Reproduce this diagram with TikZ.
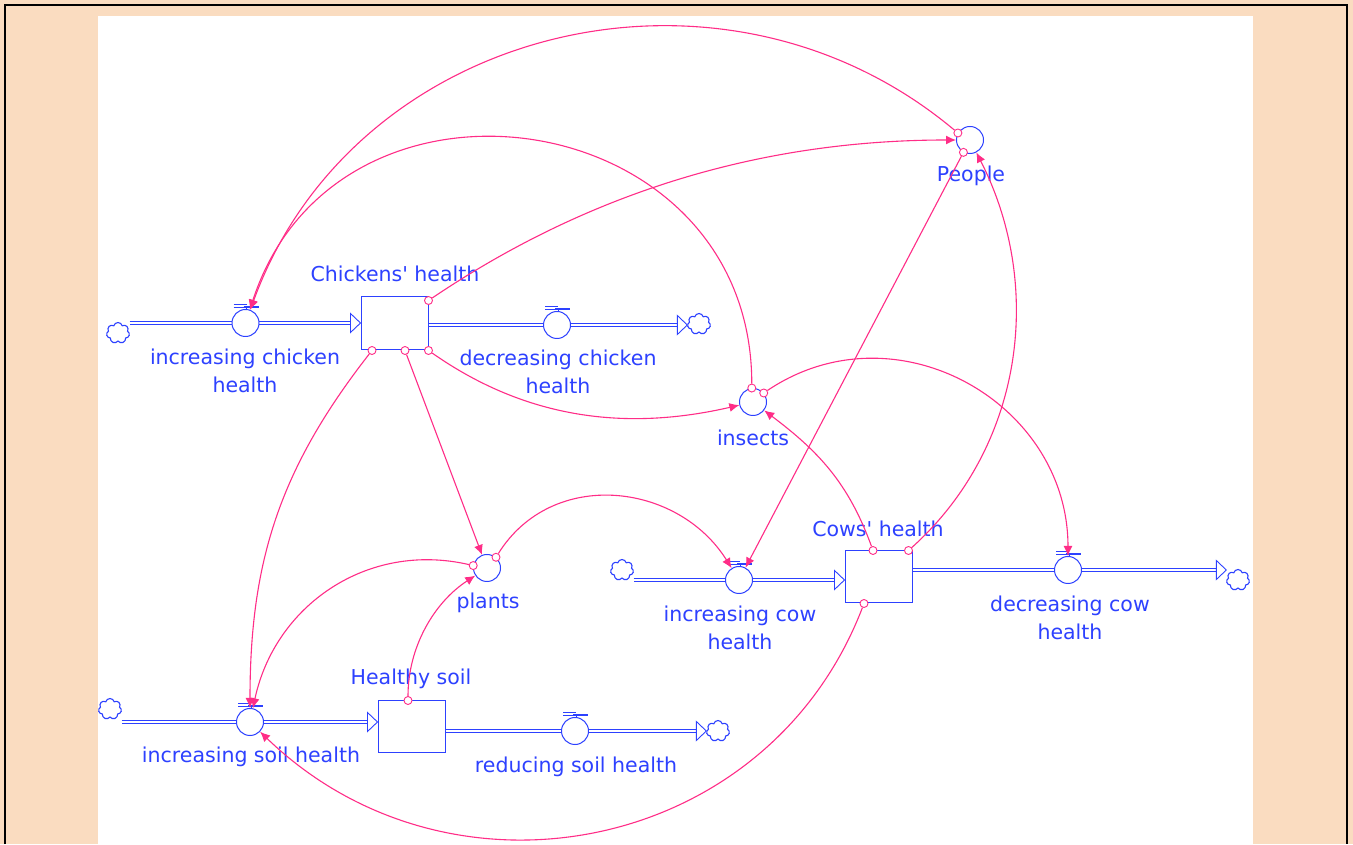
\documentclass[tikz,border=0pt]{standalone}
\usepackage{fontspec}
\setmainfont{DejaVu Sans}
\usetikzlibrary{arrows.meta,shapes.symbols}
\definecolor{peach}{RGB}{250,220,192}
\definecolor{sblue}{RGB}{45,65,255}
\definecolor{spink}{RGB}{255,45,135}
\begin{document}
\begin{tikzpicture}[x=1pt,y=1pt,
  lbl/.style={text=sblue,font=\fontsize{20.5}{27.5}\selectfont,align=center,inner sep=0pt},
  stock/.style={draw=sblue,line width=1pt,fill=white,minimum width=67pt,minimum height=53pt,inner sep=0pt},
  valve/.style={circle,draw=sblue,line width=1pt,fill=white,minimum size=27pt,inner sep=0pt},
  conv/.style={circle,draw=sblue,line width=1pt,fill=white,minimum size=27pt,inner sep=0pt},
  src/.style={cloud,cloud puffs=7,draw=sblue,line width=1.1pt,minimum width=23pt,minimum height=21pt,inner sep=0pt,aspect=1.1},
  pipe/.style={draw=sblue,line width=0.9pt,double=white,double distance=2.2pt,shorten >=9pt},
  pipetip/.style={draw=sblue,line width=0.9pt,fill=white},
  link/.style={draw=spink,line width=1.1pt,-{Latex[length=10pt,width=9pt]}},
  orig/.style={circle,draw=spink,line width=0.9pt,fill=white,minimum size=8pt,inner sep=0pt},
  valvemark/.pic={
    \draw[sblue,line width=0.8pt] (-12,19)--(1,19) (-12,16)--(1,16);
    \draw[sblue,line width=1.6pt] (-2,16)--(13,16);
    \draw[sblue,line width=1pt] (1,16)--(1,13);
  }
]
\useasboundingbox (0,0) rectangle (1353,844);
% background
\fill[peach] (0,0) rectangle (1353,844);
\fill[white] (98,0) rectangle (1253,828);
\draw[black,line width=2pt] (4.5,0) -- (4.5,838.5) -- (1347,838.5) -- (1347,0);

% stocks
\node[stock] (chk) at (394.5,520.5) {};
\node[stock,minimum height=52pt] (soil) at (411.5,117) {};
\node[stock,minimum height=52pt] (cow) at (878.5,267) {};

% clouds
\node[src] (c1) at (118,511) {};
\node[src] (c2) at (699,520) {};
\node[src] (c3) at (110,135) {};
\node[src] (c4) at (718,113) {};
\node[src] (c5) at (622,274) {};
\node[src] (c6) at (1238,264) {};

% valve positions
\coordinate (pvic) at (245.5,521);
\coordinate (pvdc) at (557,519);
\coordinate (pvis) at (250,122);
\coordinate (pvrs) at (575,113);
\coordinate (pvic2) at (739,264);
\coordinate (pvdc2) at (1068,274);

% pipes
\draw[pipe] (c1.east |- pvic) -- (chk.west |- pvic);
\draw[pipetip] (chk.west |- pvic) -- ++(-10,9.5) -- ++(0,-19) -- cycle;
\draw[pipe] (chk.east |- pvdc) -- (c2.west |- pvdc);
\draw[pipetip] (c2.west |- pvdc) -- ++(-10,9.5) -- ++(0,-19) -- cycle;
\draw[pipe] (c3.east |- pvis) -- (soil.west |- pvis);
\draw[pipetip] (soil.west |- pvis) -- ++(-10,9.5) -- ++(0,-19) -- cycle;
\draw[pipe] (soil.east |- pvrs) -- (c4.west |- pvrs);
\draw[pipetip] (c4.west |- pvrs) -- ++(-10,9.5) -- ++(0,-19) -- cycle;
\draw[pipe] (c5.east |- pvic2) -- (cow.west |- pvic2);
\draw[pipetip] (cow.west |- pvic2) -- ++(-10,9.5) -- ++(0,-19) -- cycle;
\draw[pipe] (cow.east |- pvdc2) -- (c6.west |- pvdc2);
\draw[pipetip] (c6.west |- pvdc2) -- ++(-10,9.5) -- ++(0,-19) -- cycle;

% valves
\node[valve] (vic) at (pvic) {};
\node[valve] (vdc) at (pvdc) {};
\node[valve] (vis) at (pvis) {};
\node[valve] (vrs) at (pvrs) {};
\node[valve] (vic2) at (pvic2) {};
\node[valve] (vdc2) at (pvdc2) {};
\foreach \v in {vic,vdc,vis,vrs,vic2,vdc2} { \pic at (\v) {valvemark}; }

% converters
\node[conv] (People) at (970,704) {};
\node[conv] (insects) at (753,442) {};
\node[conv] (plants) at (487,276) {};

% labels
\node[lbl] (lchk) at (395,570) {Chickens\textquotesingle{} health};
\node[lbl] (lvic) at (245,473) {increasing chicken\\health};
\node[lbl] (lvdc) at (558,472) {decreasing chicken\\health};
\node[lbl] (lsoil) at (411,165) {Healthy soil};
\node[lbl] (lvis) at (251,87) {increasing soil health};
\node[lbl] (lvrs) at (576,77) {reducing soil health};
\node[lbl] (lcow) at (878,315) {Cows\textquotesingle{} health};
\node[lbl] (lvic2) at (740,216) {increasing cow\\health};
\node[lbl] (lvdc2) at (1070,226) {decreasing cow\\health};
\node[lbl] (lpeople) at (971,668) {People};
\node[lbl] (linsects) at (753,406) {insects};
\node[lbl] (lplants) at (488,241) {plants};

% connector origins
\node[orig] (o1) at (People.150) {};
\node[orig] (o2) at ([yshift=-4pt]chk.north east) {};
\node[orig] (o3) at (insects.95) {};
\node[orig] (o4) at (chk.south east) {};
\node[orig] (o5) at ([xshift=10.5pt]chk.south) {};
\node[orig] (o6) at ([xshift=-22.5pt]chk.south) {};
\node[orig] (o7) at (plants.170) {};
\node[orig] (o8) at ([xshift=-3.5pt]soil.north) {};
\node[orig] (o9) at (plants.50) {};
\node[orig] (o10) at (People.242) {};
\node[orig] (o11) at ([xshift=-4pt]cow.north east) {};
\node[orig] (o12) at ([xshift=-5.5pt]cow.north) {};
\node[orig] (o13) at (insects.40) {};
\node[orig] (o14) at ([xshift=-14.5pt]cow.south) {};

% connectors
\draw[link] (o1) to[out=140,in=70,looseness=1.07] (vic);
\draw[link] (o2) to[out=34,in=180,looseness=0.9] (People);
\draw[link] (o3) to[out=90,in=72,looseness=1.42] (vic);
\draw[link] (o4) to[out=-35,in=193,looseness=0.95] (insects);
\draw[link] (o5) -- (plants);
\draw[link] (o6) to[out=232,in=90] (vis);
\draw[link] (o7) to[out=167,in=78,looseness=1.03] (vis);
\draw[link] (o8) to[out=90,in=213,looseness=0.91] (plants);
\draw[link] (o9) to[out=58,in=122,looseness=1.11] (vic2);
\draw[link] (o10) -- (vic2);
\draw[link] (o11) to[out=42,in=-63,looseness=0.96] (People);
\draw[link] (o12) to[out=110,in=-37] (insects);
\draw[link] (o13) to[out=34,in=90,looseness=1.15] (vdc2);
\draw[link] (o14) to[out=249,in=-44,looseness=1.1] (vis);
\end{tikzpicture}
\end{document}
